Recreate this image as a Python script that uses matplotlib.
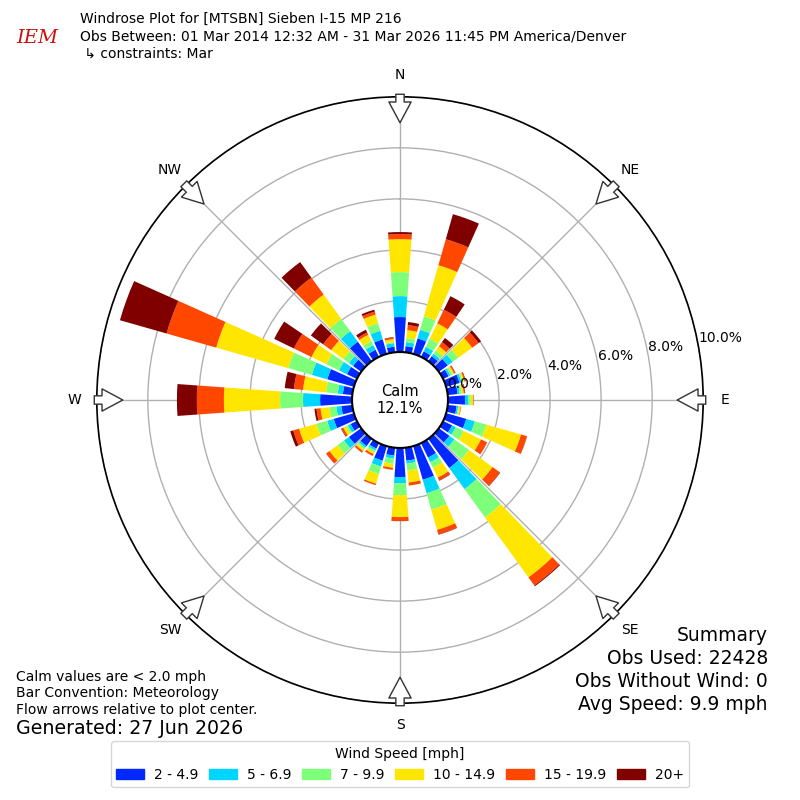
import numpy as np
import matplotlib
matplotlib.use('Agg')
import matplotlib.pyplot as plt
from matplotlib.patches import Patch

# direction the wind blows from, degrees (10 degree sectors)
directions = np.arange(0, 360, 10)

speed_labels = ['2 - 4.9', '5 - 6.9', '7 - 9.9', '10 - 14.9', '15 - 19.9', '20+']

bin_2_5 = [1.37, 0.24, 0.63, 0.24, 0.24, 0.43, 0.24, 0.55, 0.39, 0.67, 0.35, 0.82,
           0.39, 0.51, 1.41, 0.63, 1.37, 0.51, 1.14, 0.31, 0.59, 0.24, 0.35, 0.59,
           0.27, 0.82, 0.43, 1.25, 0.37, 1.08, 0.43, 0.39, 0.94, 0.31, 0.59, 0.22]
bin_5_7 = [0.82, 0.16, 0.35, 0.20, 0.12, 0.24, 0.08, 0.08, 0.08, 0.12, 0.06, 0.35,
           0.16, 0.24, 1.02, 0.20, 0.55, 0.12, 0.24, 0.12, 0.24, 0.08, 0.08, 0.24,
           0.12, 0.27, 0.20, 0.67, 0.20, 0.63, 0.35, 0.20, 0.51, 0.20, 0.35, 0.14]
bin_7_10 = [0.94, 0.16, 0.55, 0.35, 0.16, 0.27, 0.08, 0.06, 0.08, 0.10, 0.04, 0.47,
            0.35, 0.71, 1.37, 0.24, 0.67, 0.27, 0.47, 0.20, 0.31, 0.08, 0.08, 0.31,
            0.08, 0.43, 0.27, 0.90, 0.46, 0.96, 0.55, 0.27, 0.59, 0.18, 0.31, 0.04]
bin_10_15 = [1.29, 0.31, 2.08, 0.67, 0.20, 0.67, 0.08, 0.06, 0.08, 0.10, 0.06, 1.41,
             0.75, 1.14, 2.90, 0.43, 0.82, 0.47, 0.86, 0.16, 0.39, 0.08, 0.08, 0.39,
             0.12, 0.71, 0.35, 2.20, 0.91, 2.94, 0.65, 0.59, 1.18, 0.27, 0.35, 0.12]
bin_15_20 = [0.20, 0.20, 1.06, 0.59, 0.20, 0.31, 0.04, 0.04, 0.04, 0.01, 0.02, 0.24,
             0.27, 0.35, 0.39, 0.12, 0.18, 0.12, 0.16, 0.08, 0.06, 0.08, 0.08, 0.16,
             0.08, 0.24, 0.16, 1.06, 0.36, 2.02, 0.76, 0.39, 0.82, 0.10, 0.12, 0.06]
bin_20_up = [0.08, 0.12, 1.02, 0.59, 0.20, 0.12, 0.02, 0.02, 0.02, 0.01, 0.00, 0.01,
             0.00, 0.02, 0.04, 0.02, 0.02, 0.00, 0.00, 0.00, 0.00, 0.00, 0.00, 0.01,
             0.02, 0.12, 0.08, 0.78, 0.36, 1.90, 0.86, 0.59, 0.75, 0.12, 0.08, 0.02]

calm_pct = 12.1
rticks = [0, 2, 4, 6, 8, 10]
compass = ['N', 'NE', 'E', 'SE', 'S', 'SW', 'W', 'NW']

bins = [bin_2_5, bin_5_7, bin_7_10, bin_10_15, bin_15_20, bin_20_up]
colors = plt.cm.jet(np.arange(1, 7) / 6.0)

fig = plt.figure(figsize=(8, 8), dpi=100)
ax = fig.add_axes([0.121, 0.121, 0.758, 0.758], projection='polar')
ax.set_theta_zero_location('N')
ax.set_theta_direction(-1)
ax.set_ylim(0, 10)
ax.set_rorigin(-1.88)
ax.set_axisbelow(True)

theta = np.deg2rad(directions)
base = np.zeros(len(directions))
for vals, c in zip(bins, colors):
    vals = np.array(vals)
    ax.bar(theta, vals, width=np.deg2rad(8.2), bottom=base, color=c,
           linewidth=0, zorder=2)
    base = base + vals

##### grid #####
ax.set_xticks(np.deg2rad(np.arange(0, 360, 45)))
ax.set_xticklabels([])
ax.set_yticks(rticks)
ax.set_yticklabels([])
ax.grid(True, color='#b0b0b0', linewidth=1)
ax.spines['polar'].set_linewidth(1.2)
ax.spines['inner'].set_linewidth(1.5)

for r in rticks:
    ax.text(np.deg2rad(79.5), r, '{:.1f}%'.format(r), ha='left', va='bottom',
            fontsize=10, zorder=5)

ax.text(0.5, 0.5, 'Calm\n{:.1f}%'.format(calm_pct), transform=ax.transAxes,
        ha='center', va='center', fontsize=10.5, linespacing=1.1)

##### compass labels and flow arrows #####
for i, lab in enumerate(compass):
    t = np.deg2rad(i * 45)
    ax.text(t, 10.86, lab, ha='center', va='center', fontsize=10, clip_on=False)
    ax.annotate('', xy=(t, 8.98), xytext=(t, 10.1), annotation_clip=False,
                arrowprops=dict(arrowstyle='simple,head_length=0.75,head_width=0.8,tail_width=0.3',
                                fc='white', ec='#333333', lw=1, shrinkA=0, shrinkB=0,
                                mutation_scale=20), zorder=6)

##### titles and notes #####
fig.text(0.046, 0.952, 'IEM', color='#cc1111', fontsize=14, fontstyle='italic',
         family='serif', ha='center', va='center')
fig.text(0.1, 0.977, 'Windrose Plot for [MTSBN] Sieben I-15 MP 216', fontsize=10, va='center')
fig.text(0.1, 0.954, 'Obs Between: 01 Mar 2014 12:32 AM - 31 Mar 2026 11:45 PM America/Denver',
         fontsize=10, va='center')
fig.text(0.1, 0.9325, ' \u21b3 constraints: Mar', fontsize=10, va='center')

fig.text(0.02, 0.154, 'Calm values are < 2.0 mph', fontsize=10, va='center')
fig.text(0.02, 0.134, 'Bar Convention: Meteorology', fontsize=10, va='center')
fig.text(0.02, 0.1125, 'Flow arrows relative to plot center.', fontsize=10, va='center')
fig.text(0.02, 0.089, 'Generated: 27 Jun 2026', fontsize=13.7, va='center')

summary = ['Summary', 'Obs Used: 22428', 'Obs Without Wind: 0', 'Avg Speed: 9.9 mph']
for j, s in enumerate(summary):
    fig.text(0.96, 0.206 - j * 0.029, s, fontsize=13.5, ha='right', va='center')

handles = [Patch(color=c) for c in colors]
fig.legend(handles, speed_labels, loc='lower center', bbox_to_anchor=(0.5, 0.007),
           ncol=6, title='Wind Speed [mph]', fontsize=10, title_fontsize=10,
           columnspacing=0.8, handletextpad=0.7)

plt.savefig('out.png', dpi=100)
